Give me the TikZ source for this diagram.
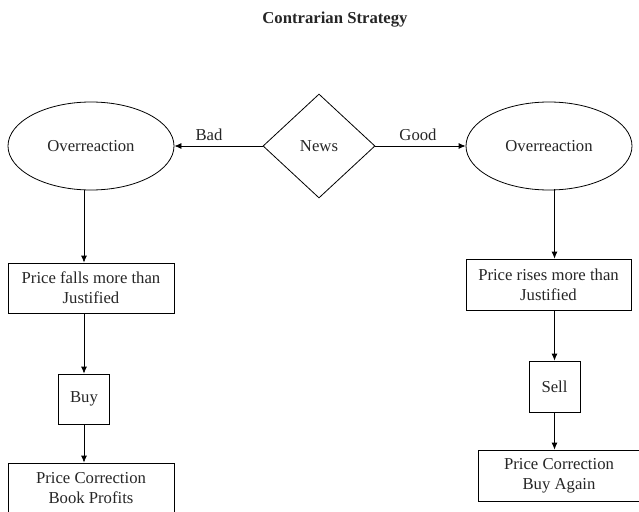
\documentclass[tikz,border=0pt]{standalone}
\usepackage{fontspec}
\setmainfont{Liberation Serif}
\usetikzlibrary{shapes.geometric,arrows.meta}
\begin{document}
\begin{tikzpicture}[x=1pt,y=-1pt,
  every node/.style={font=\fontsize{16.7}{20}\selectfont, text=black!85},
  oval/.style={draw, ellipse, line width=0.8pt, inner sep=0pt, minimum width=166pt, minimum height=88pt},
  choice/.style={draw, diamond, line width=0.8pt, inner sep=0pt, minimum width=112pt, minimum height=104pt},
  stepbox/.style={draw, rectangle, line width=0.8pt, inner sep=0pt, align=center},
  conn/.style={line width=0.8pt, -{Latex[length=7pt,width=6pt]}},
  lbl/.style={inner sep=0pt}
]
\useasboundingbox (0,0) rectangle (639,511);
\clip (0,0) rectangle (639,511);
\node[font=\bfseries\fontsize{16.7}{20}\selectfont] (title) at (335,20) {Contrarian Strategy};
\node[choice] (news) at (319,146) {News};
\node[oval] (lov) at (91,146) {Overreaction};
\node[oval] (rov) at (549,146) {Overreaction};
\draw[conn] (news.west) -- (lov.east);
\draw[conn] (news.east) -- (rov.west);
\node[lbl] (bad) at (209,135) {Bad};
\node[lbl] (good) at (418,135) {Good};
% left column
\node[stepbox, minimum width=166pt, minimum height=50pt] (lfall) at (91,288) {Price falls more than\\Justified};
\node[stepbox, minimum width=51pt, minimum height=50pt] (buy) at (84,399) {Buy};
\node[stepbox, minimum width=166pt, minimum height=50pt] (lcorr) at (91,488) {Price Correction\\Book Profits};
\coordinate (l1) at (84,190);
\draw[conn] (l1) -- (l1 |- lfall.north);
\draw[conn] (l1 |- lfall.south) -- (buy.north);
\draw[conn] (buy.south) -- (buy.south |- lcorr.north);
% right column
\node[stepbox, minimum width=165pt, minimum height=51pt] (rrise) at (548.5,284.5) {Price rises more than\\Justified};
\node[stepbox, minimum width=51pt, minimum height=51pt] (sell) at (554.5,386.5) {Sell};
\node[stepbox, minimum width=162pt, minimum height=51pt] (rcorr) at (559,475.5) {Price Correction\\Buy Again};
\coordinate (r1) at (554.5,189);
\draw[conn] (r1) -- (r1 |- rrise.north);
\draw[conn] (r1 |- rrise.south) -- (sell.north);
\draw[conn] (sell.south) -- (sell.south |- rcorr.north);
\end{tikzpicture}
\end{document}
